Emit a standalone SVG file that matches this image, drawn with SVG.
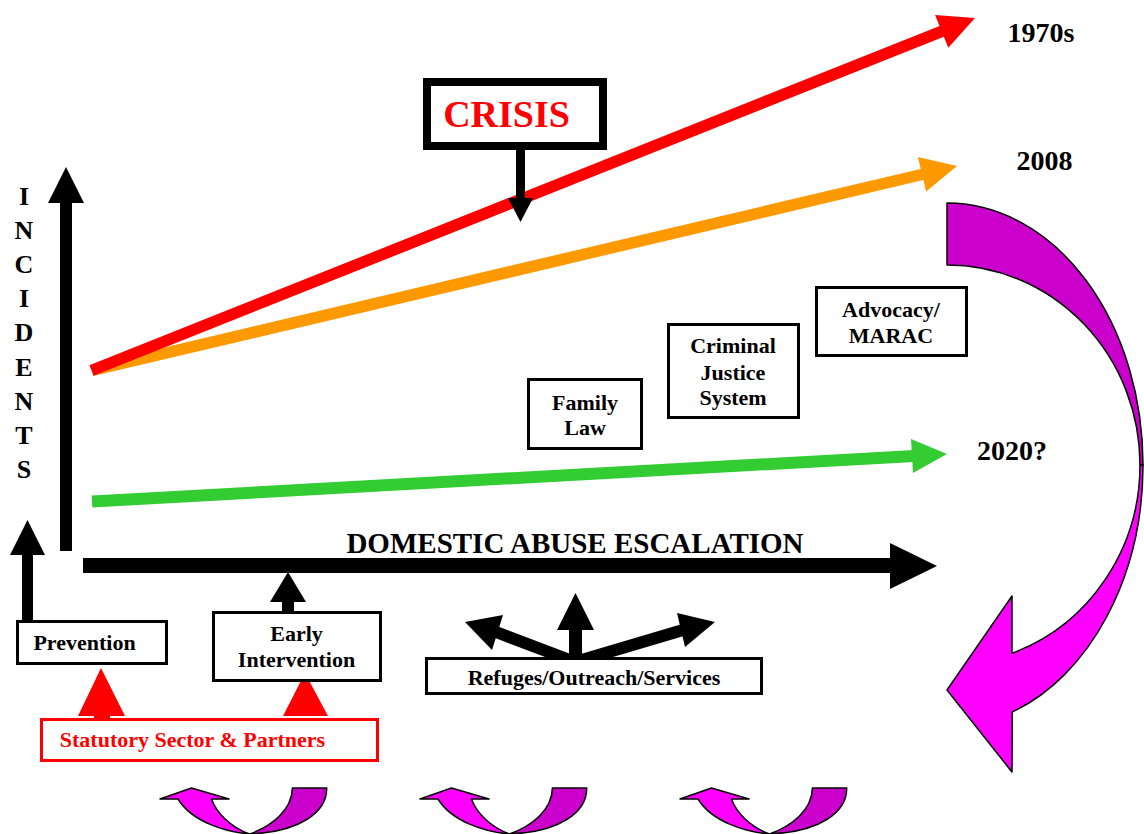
<svg xmlns="http://www.w3.org/2000/svg" width="1144" height="834" viewBox="0 0 1144 834">
<style>
text{font-family:"Liberation Serif","Times New Roman",serif;font-weight:bold;fill:#000;text-anchor:middle}
.t22{font-size:22px}
.t28{font-size:28px}
.inc{font-size:26px}
.box{fill:#fff;stroke:#000;stroke-width:3}
.red{fill:#FF0000}
.blk{fill:#000}
.mag{fill:#FF00FF;stroke:#000;stroke-width:1.5;stroke-linejoin:round}
.dmag{fill:#CC00CC;stroke:#000;stroke-width:1.5;stroke-linejoin:round}
</style>
<defs>
<g id="smallCurl">
<path class="mag" d="M178,799 L160,799 L191.5,788 L229,799 L211.5,799 C216,812 230,827 249.5,834 C226,832 192,822 178,799 Z"/>
<path class="dmag" d="M292.4,788 L326.7,788 C327,812 300,832 249.5,834 C272,826 292,810 292.4,788 Z"/>
</g>
</defs>
<rect width="1144" height="834" fill="#fff"/>

<g id="connectors">
  <line x1="92" y1="370.5" x2="924" y2="174" stroke="#FF9900" stroke-width="11.5"/>
  <polygon fill="#FF9900" points="957,166 917.9,157.1 926.1,191.5"/>
  <line x1="91.5" y1="370.5" x2="943" y2="30.8" stroke="#FF0000" stroke-width="11.5"/>
  <polygon fill="#FF0000" points="975,18 935.1,14.9 948.3,47.7"/>
  <line x1="92" y1="501.5" x2="914" y2="456" stroke="#33CC33" stroke-width="12"/>
  <polygon fill="#33CC33" points="947,454 911,439 913,473"/>
  <rect class="blk" x="60" y="200" width="12" height="351"/>
  <polygon class="blk" points="48,203 66,167 84,203"/>
  <rect class="blk" x="83" y="558" width="809" height="15"/>
  <polygon class="blk" points="890,543 937,566 890,589"/>
  <rect class="blk" x="516" y="150" width="9" height="50"/>
  <polygon class="blk" points="508,198 520.5,222 533,198"/>
  <rect class="blk" x="22" y="553" width="11" height="69"/>
  <polygon class="blk" points="10,555 27.5,520 45,555"/>
  <rect class="blk" x="282" y="600" width="12" height="13"/>
  <polygon class="blk" points="270,602 288,572 306,602"/>
  <rect class="blk" x="569" y="628" width="13" height="34"/>
  <polygon class="blk" points="557,630 575.5,593 594,630"/>
  <line x1="575" y1="662" x2="496" y2="632" stroke="#000" stroke-width="12"/>
  <polygon class="blk" points="465,622 492,650 503,615"/>
  <line x1="575" y1="662" x2="683" y2="630" stroke="#000" stroke-width="12"/>
  <polygon class="blk" points="715,622 685,647 677,613"/>
  <rect class="red" x="94" y="712" width="16" height="10"/>
  <polygon class="red" points="78,716 101,668 125,716"/>
  <polygon class="red" points="283,716 305,673 328,716"/>
  <path class="dmag" d="M947,203 A196,262 0 0 1 1143,465 L1140,465 A193,200 0 0 0 947,265 Z"/>
  <path class="mag" d="M1143,465 A196,262 0 0 1 1012.3,712 L1012,772 L947,690 L1012,596 L1012,653.3 A193,200 0 0 0 1140,465 Z"/>
  <use href="#smallCurl"/>
  <use href="#smallCurl" x="260"/>
  <use href="#smallCurl" x="520"/>
</g>

<g id="axis-incidents">
  <text class="inc" x="24" y="205">I</text>
  <text class="inc" x="24" y="239">N</text>
  <text class="inc" x="24" y="273">C</text>
  <text class="inc" x="24" y="307">I</text>
  <text class="inc" x="24" y="341">D</text>
  <text class="inc" x="24" y="376">E</text>
  <text class="inc" x="24" y="410">N</text>
  <text class="inc" x="24" y="444">T</text>
  <text class="inc" x="24" y="478">S</text>
</g>
<g id="axis-escalation">
  <text x="575" y="553" style="font-size:29px">DOMESTIC ABUSE ESCALATION</text>
</g>
<g id="label-1970s"><text class="t28" x="1041" y="42">1970s</text></g>
<g id="label-2008"><text class="t28" x="1044.5" y="170">2008</text></g>
<g id="label-2020"><text class="t28" x="1012" y="460">2020?</text></g>

<g id="crisis">
  <rect x="427" y="82" width="176" height="64" fill="#fff" stroke="#000" stroke-width="8"/>
  <text x="506.5" y="127" style="font-size:38px;fill:#FF0000">CRISIS</text>
</g>
<g id="family-law">
  <rect class="box" x="528.5" y="379.5" width="113" height="69"/>
  <text class="t22" x="585" y="410">Family</text>
  <text class="t22" x="585" y="435">Law</text>
</g>
<g id="criminal-justice">
  <rect class="box" x="668.5" y="324.5" width="130" height="93"/>
  <text class="t22" x="733" y="353">Criminal</text>
  <text class="t22" x="733" y="380">Justice</text>
  <text class="t22" x="733" y="405">System</text>
</g>
<g id="advocacy">
  <rect class="box" x="816.5" y="287.5" width="150" height="68"/>
  <text class="t22" x="891" y="317">Advocacy/</text>
  <text class="t22" x="891" y="343">MARAC</text>
</g>
<g id="prevention">
  <rect class="box" x="17.5" y="621.5" width="149" height="42"/>
  <text class="t22" x="84.5" y="650">Prevention</text>
</g>
<g id="early-intervention">
  <rect class="box" x="213.5" y="612.5" width="167" height="68"/>
  <text class="t22" x="296.5" y="641">Early</text>
  <text class="t22" x="296.5" y="667">Intervention</text>
</g>
<g id="refuges">
  <rect class="box" x="426.5" y="658.5" width="335" height="35"/>
  <text class="t22" x="594" y="685">Refuges/Outreach/Services</text>
</g>
<g id="statutory">
  <rect x="41.5" y="719.5" width="336" height="41" fill="#fff" stroke="#FF0000" stroke-width="3"/>
  <text class="t22" x="192.5" y="747" style="fill:#FF0000">Statutory Sector &amp; Partners</text>
</g>
</svg>
